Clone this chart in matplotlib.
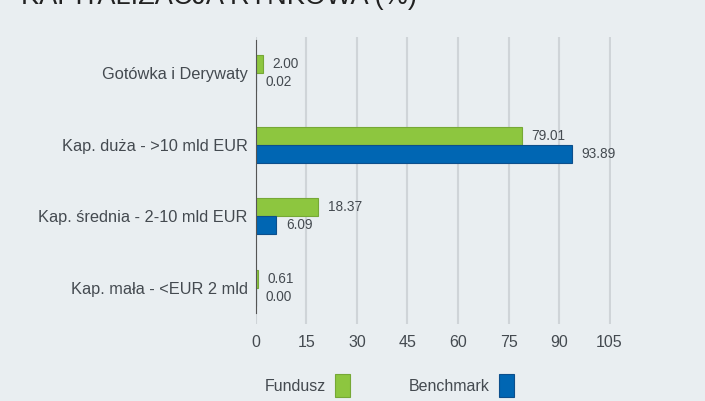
import matplotlib.pyplot as plt
import numpy as np

plt.rcParams['font.family'] = ['Liberation Sans', 'DejaVu Sans']

categories = ["Gotówka i Derywaty", "Kap. duża - >10 mld EUR",
              "Kap. średnia - 2-10 mld EUR", "Kap. mała - <EUR 2 mld"]
fundusz = [2.00, 79.01, 18.37, 0.61]
benchmark = [0.02, 93.89, 6.09, 0.00]
xticks = [0, 15, 30, 45, 60, 75, 90, 105]

bg = '#e9eef1'
green = '#8dc63f'
blue = '#0066b3'
txt = '#444a50'

fig = plt.figure(figsize=(7.05, 4.01), dpi=100, facecolor=bg)
ax = fig.add_axes([0.363, 0.192, 0.504, 0.716], facecolor=bg)

y = np.arange(len(categories))
h = 0.25
ax.barh(y - h / 2, fundusz, height=h, color=green, edgecolor='#76a836', linewidth=0.8, label='Fundusz')
ax.barh(y + h / 2, benchmark, height=h, color=blue, edgecolor='#0d4f8c', linewidth=0.8, label='Benchmark')

for i in range(len(categories)):
    ax.annotate(f"{fundusz[i]:.2f}", (fundusz[i], y[i] - h / 2), xytext=(7, 0),
                textcoords='offset points', va='center', ha='left', fontsize=9.8, color=txt)
    ax.annotate(f"{benchmark[i]:.2f}", (benchmark[i], y[i] + h / 2), xytext=(7, 0),
                textcoords='offset points', va='center', ha='left', fontsize=9.8, color=txt)

ax.set_xlim(0, 105.5)
ax.set_ylim(len(categories) - 0.5, -0.5)
ax.set_xticks(xticks)
ax.set_yticks(y)
ax.set_yticklabels(categories)
ax.tick_params(axis='x', length=0, labelsize=11.5, colors=txt, pad=8)
ax.tick_params(axis='y', length=0, labelsize=11.8, colors=txt, pad=6)
ax.xaxis.grid(True, color='#cfd4d8', linewidth=1.5)
ax.set_axisbelow(True)
for s in ['top', 'right', 'bottom']:
    ax.spines[s].set_visible(False)
ax.spines['left'].set_color('#555555')
ax.spines['left'].set_bounds(-0.45, 3.35)

# title is cut off at the top edge, as in the original
fig.text(0.03, 0.991, "KAPITALIZACJA RYNKOWA (%)", fontsize=19.5, color='#222222', va='baseline')

fig.legend(loc='lower center', bbox_to_anchor=(0.552, -0.025), ncol=2, markerfirst=False,
           frameon=False, fontsize=11.5, labelcolor=txt, handlelength=0.95, handleheight=1.8,
           columnspacing=3.65, handletextpad=0.6)

fig.savefig('out.png', dpi=100, facecolor=bg)
